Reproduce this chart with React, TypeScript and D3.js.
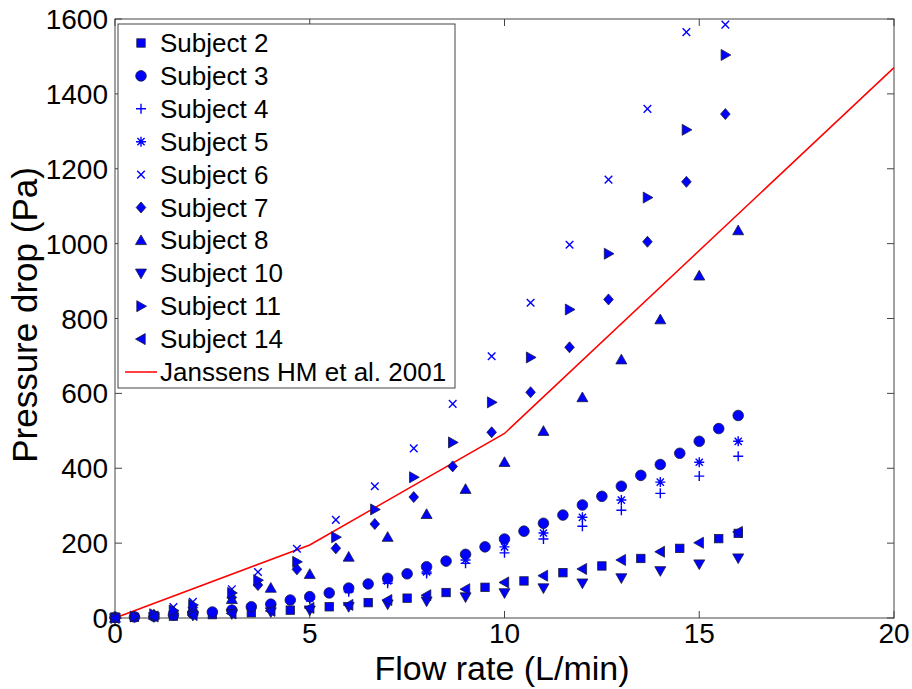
import React from "react";
import * as d3 from "d3";

// ---------- data ----------
const xHalf = [0, 0.5, 1, 1.5, 2, 2.5, 3, 3.5, 4, 4.5, 5, 5.5, 6, 6.5, 7, 7.5, 8, 8.5, 9, 9.5, 10, 10.5, 11, 11.5, 12, 12.5, 13, 13.5, 14, 14.5, 15, 15.5, 16];
const xInt = [0, 1, 2, 3, 4, 5, 6, 7, 8, 9, 10, 11, 12, 13, 14, 15, 16];
const xThird = [0, 0.5, 1, 1.5, 2, 3, 3.67, 4.67, 5.67, 6.67, 7.67, 8.67, 9.67, 10.67, 11.67, 12.67, 13.67, 14.67, 15.67];

const s2x = [0, 0.5, 1.5, 2.5, 3.5, 4.5, 5.5, 6.5, 7.5, 8.5, 9.5, 10.5, 11.5, 12.5, 13.5, 14.5, 15.5, 16];
const s2y = [0, 2, 5, 9, 14, 21, 30, 41, 53, 68, 82, 99, 121, 139, 159, 186, 212, 226];
const s3y = [2, 3, 5, 8, 12, 16, 21, 30, 37, 48, 57, 67, 80, 91, 106, 118, 137, 152, 170, 190, 211, 232, 253, 275, 302, 325, 352, 381, 410, 440, 472, 506, 541];
const s4y = [0, 4, 10, 20, 33, 50, 70, 93, 119, 146, 174, 211, 245, 288, 333, 379, 432];
const s5y = [0, 4, 11, 22, 36, 54, 76, 99, 123, 155, 190, 227, 269, 315, 363, 416, 472];
const s6y = [0, 3, 8, 29, 43, 77, 123, 185, 262, 352, 453, 572, 699, 842, 997, 1171, 1360, 1565, 1585];
const s7y = [0, 3, 8, 17, 28, 55, 88, 130, 186, 251, 323, 405, 496, 603, 723, 851, 1005, 1165, 1346];
const s8y = [0, 8, 25, 50, 80, 117, 163, 216, 277, 344, 416, 499, 589, 690, 797, 914, 1035];
const s10y = [0, 3, 7, 11, 16, 21, 30, 37, 45, 56, 67, 80, 93, 107, 126, 144, 160];
const s11y = [0, 4, 10, 20, 35, 67, 101, 150, 216, 290, 376, 469, 576, 696, 824, 973, 1123, 1304, 1504];
const s14y = [0, 4, 8, 12, 19, 27, 35, 48, 61, 77, 95, 113, 131, 155, 177, 201, 230];

const janX = [0, 5, 10, 20];
const janY = [0, 195, 493, 1470];

const subjectNames = ["Subject 2", "Subject 3", "Subject 4", "Subject 5", "Subject 6", "Subject 7", "Subject 8", "Subject 10", "Subject 11", "Subject 14"];
const markerKinds = ["square", "circle", "plus", "star", "x", "diamond", "up", "down", "right", "left"];
const lineName = "Janssens HM et al. 2001";

const xTicks = [0, 5, 10, 15, 20];
const yTicks = [0, 200, 400, 600, 800, 1000, 1200, 1400, 1600];

const series = [
  { x: s2x, y: s2y },
  { x: xHalf, y: s3y },
  { x: xInt, y: s4y },
  { x: xInt, y: s5y },
  { x: xThird, y: s6y },
  { x: xThird, y: s7y },
  { x: xInt, y: s8y },
  { x: xInt, y: s10y },
  { x: xThird, y: s11y },
  { x: xInt, y: s14y },
];

// ---------- layout ----------
const W = 912, H = 689;
const L = 115, R = 894, T = 19, B = 618;
const BLUE = "#0000ff";
const EDGE = "#1a1a3a";
const FONT = "Arial, 'Liberation Sans', sans-serif";

function Marker({ kind, cx, cy }: { kind: string; cx: number; cy: number }) {
  const t = `translate(${cx},${cy})`;
  const filled = { fill: BLUE, stroke: EDGE, strokeWidth: 0.8 };
  const lined = { fill: "none", stroke: BLUE, strokeWidth: 1.4 };
  switch (kind) {
    case "square":
      return <rect x={cx - 4.2} y={cy - 4.2} width={8.4} height={8.4} {...filled} />;
    case "circle":
      return <circle cx={cx} cy={cy} r={5.3} {...filled} />;
    case "plus":
      return <path transform={t} d="M-5,0H5M0,-5V5" {...lined} />;
    case "star":
      return <path transform={t} d="M-5,0H5M0,-5V5M-3.6,-3.6L3.6,3.6M-3.6,3.6L3.6,-3.6" {...lined} />;
    case "x":
      return <path transform={t} d="M-3.8,-3.8L3.8,3.8M-3.8,3.8L3.8,-3.8" {...lined} />;
    case "diamond":
      return <path transform={t} d="M0,-5.5L4.8,0L0,5.5L-4.8,0Z" {...filled} />;
    case "up":
      return <path transform={t} d="M0,-5.5L5.5,4.2L-5.5,4.2Z" {...filled} />;
    case "down":
      return <path transform={t} d="M0,5.5L5.5,-4.2L-5.5,-4.2Z" {...filled} />;
    case "right":
      return <path transform={t} d="M5.5,0L-4.2,5.5L-4.2,-5.5Z" {...filled} />;
    case "left":
      return <path transform={t} d="M-5.5,0L4.2,5.5L4.2,-5.5Z" {...filled} />;
  }
  return null;
}

export default function App() {
  const x = d3.scaleLinear().domain([0, 20]).range([L, R]);
  const y = d3.scaleLinear().domain([0, 1600]).range([B, T]);
  const line = d3.line<number>().x((_, i) => x(janX[i])).y((d) => y(d));
  const tick = 7;
  const axisColor = "#444";

  const legX = 118, legY = 24, legW = 337, legH = 364;
  const legRow0 = 43, legStep = 32.9;

  return (
    <svg width={W} height={H} style={{ position: "absolute", left: 0, top: 0, background: "#fff" }} fontFamily={FONT}>
      <rect x={0} y={0} width={W} height={H} fill="#fff" />
      {/* axes box */}
      <rect x={L} y={T} width={R - L} height={B - T} fill="none" stroke={axisColor} strokeWidth={1} />
      {xTicks.map((v) => (
        <g key={"xt" + v}>
          <line x1={x(v)} x2={x(v)} y1={B} y2={B - tick} stroke={axisColor} />
          <line x1={x(v)} x2={x(v)} y1={T} y2={T + tick} stroke={axisColor} />
          <text x={x(v)} y={643} fontSize={28} textAnchor="middle" fill="#000">{v}</text>
        </g>
      ))}
      {yTicks.map((v) => (
        <g key={"yt" + v}>
          <line x1={L} x2={L + tick} y1={y(v)} y2={y(v)} stroke={axisColor} />
          <line x1={R} x2={R - tick} y1={y(v)} y2={y(v)} stroke={axisColor} />
          <text x={108} y={y(v) + 10} fontSize={28} textAnchor="end" fill="#000">{v}</text>
        </g>
      ))}
      <text x={502} y={680} fontSize={34} textAnchor="middle" fill="#000">Flow rate (L/min)</text>
      <text transform={`translate(37,315) rotate(-90)`} fontSize={35} textAnchor="middle" fill="#000">Pressure drop (Pa)</text>

      {/* data */}
      <path d={line(janY) || ""} fill="none" stroke="#ff0000" strokeWidth={1.5} />
      {series.map((s, si) =>
        s.y.map((v, i) => <Marker key={si + "-" + i} kind={markerKinds[si]} cx={x(s.x[i])} cy={y(v)} />)
      )}

      {/* legend */}
      <rect x={legX} y={legY} width={legW} height={legH} fill="#fff" stroke={axisColor} strokeWidth={1} />
      {subjectNames.map((n, i) => (
        <g key={n}>
          <Marker kind={markerKinds[i]} cx={141} cy={legRow0 + i * legStep} />
          <text x={160} y={legRow0 + i * legStep + 9} fontSize={26} fill="#000">{n}</text>
        </g>
      ))}
      <line x1={125} x2={157} y1={legRow0 + 10 * legStep} y2={legRow0 + 10 * legStep} stroke="#ff0000" strokeWidth={1.5} />
      <text x={160} y={legRow0 + 10 * legStep + 9} fontSize={26} fill="#000">{lineName}</text>
    </svg>
  );
}
